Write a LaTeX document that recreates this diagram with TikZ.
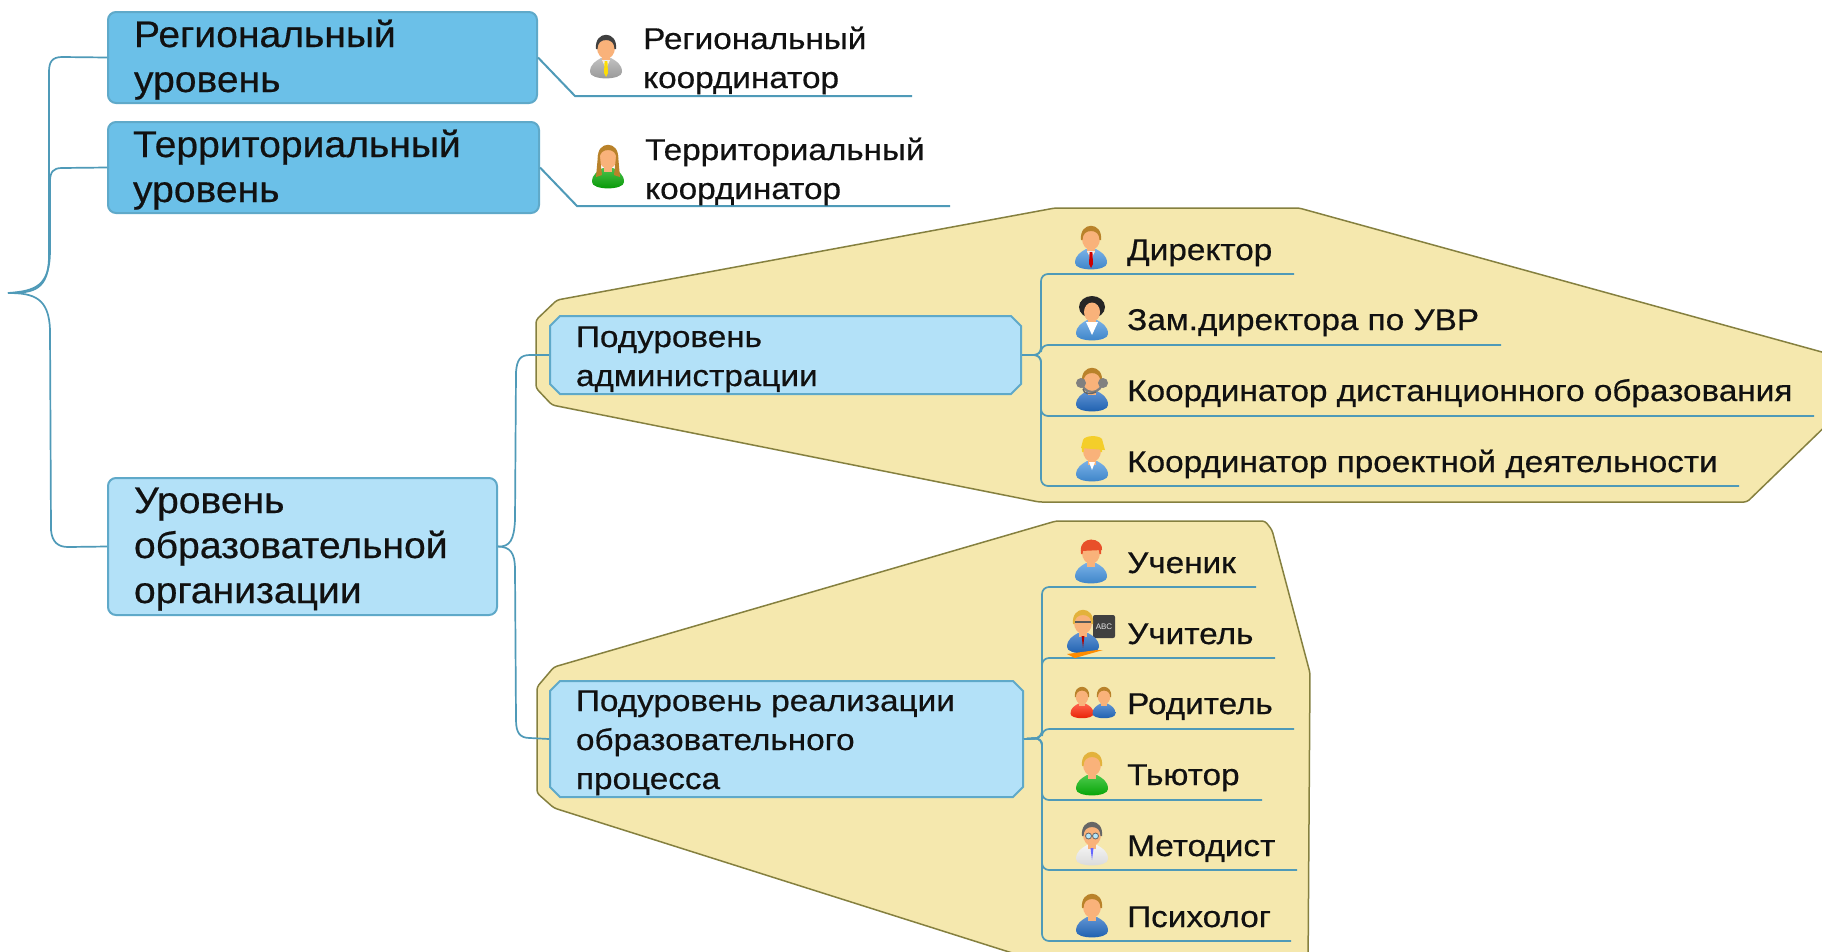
\documentclass[tikz,border=0pt]{standalone}
\usepackage{fontspec}
\setmainfont{Liberation Sans}
\newfontfamily\bigface[FakeStretch=1.056,FakeBold=0.5]{Liberation Sans}
\newfontfamily\smallface[FakeStretch=1.11,FakeBold=0.5]{Liberation Sans}
\usetikzlibrary{shapes.misc,calc}
\definecolor{linkc}{HTML}{4F9AB8}
\definecolor{boxline}{HTML}{5FA9C9}
\definecolor{darkfill}{HTML}{6BC0E8}
\definecolor{lightfill}{HTML}{B3E1F8}
\definecolor{blobfill}{HTML}{F5E8AE}
\definecolor{blobline}{HTML}{85803F}
\definecolor{skin}{HTML}{F9B27A}
\definecolor{bluebody}{HTML}{3F8FDC}
\definecolor{deepblue}{HTML}{1C66C0}
\definecolor{brownhair}{HTML}{B9822A}
\definecolor{blond}{HTML}{E3B23C}
\definecolor{hardhat}{HTML}{F4CE2A}
\definecolor{redcap}{HTML}{E8502A}
\definecolor{txtc}{HTML}{111111}
\newcommand{\boxtext}[3]{\raisebox{#2pt}[0pt][0pt]{\parbox[t]{#1pt}{\raggedright #3}}}
% \person{cx}{top}{scale}{hair}{body}{extras}
\newcommand{\person}[6]{%
 \begin{scope}[shift={(#1,#2)},scale=#3]
  \colorlet{pbody}{#5}
  \path[top color=pbody!70!white,bottom color=pbody!90!black]
    (-16,37) .. controls (-16,29) and (-10,26) .. (-5,23) -- (5,23)
    .. controls (10,26) and (16,29) .. (16,37) .. controls (16,45.5) and (-16,45.5) .. cycle;
  \fill[skin] (0,12.5) ellipse [x radius=9,y radius=11.5];
  \fill[skin] (-4,18) rectangle (4,27);
  \fill[#4] (-10,14) .. controls (-12,-5) and (12,-5) .. (10,14) -- (8.5,14)
     .. controls (8.5,8) and (5,5) .. (0,5) .. controls (-5,5) and (-8.5,8) .. (-8.5,14) -- cycle;
  #6
 \end{scope}}
\newcommand{\tie}[1]{\fill[white!85!gray] (-4,25) -- (4,25) -- (0,34) -- cycle; \fill[#1] (-1.4,26) -- (1.4,26) -- (2,38) -- (0,42) -- (-2,38) -- cycle;}
\tikzset{
 link/.style={draw=linkc,line width=1.7pt,rounded corners=7pt},
 under/.style={draw=linkc,line width=2pt},
 blob/.style={draw=blobline,line width=1.5pt,fill=blobfill},
 mainbox/.style={rectangle,rounded corners=8pt,draw=boxline,line width=2pt,inner sep=0pt,text=txtc,font=\bigface\fontsize{37}{45}\selectfont},
 subbox/.style={chamfered rectangle,chamfered rectangle xsep=10pt,chamfered rectangle ysep=10pt,draw=boxline,line width=2pt,fill=lightfill,inner sep=0pt,text=txtc,font=\smallface\fontsize{30}{39}\selectfont},
 lab/.style={anchor=base west,inner sep=0pt,text=txtc,font=\smallface\fontsize{30}{39}\selectfont},
 lab2/.style={anchor=west,inner sep=0pt,text=txtc,font=\smallface\fontsize{30}{39}\selectfont},
}
\begin{document}
\begin{tikzpicture}[x=1pt,y=-1pt]
\useasboundingbox (0,0) rectangle (1822,951);
\clip (0,0) rectangle (1822,951);
\fill[white] (0,0) rectangle (1822,951);
% yellow regions
\draw[blob,rounded corners=3pt] (1055,208) -- (1299,208) -- (1840,357) -- (1840,412) -- (1747,502) -- (1039,502) -- (552,405) -- (536,388) -- (536,320) -- (557,300) -- cycle;
\draw[blob,rounded corners=3pt] (1056,521) -- (1265,521) -- (1272,530) -- (1310,673) -- (1308,970) -- (1066,970) -- (554,808) -- (537,793) -- (537,687) -- (554,667) -- cycle;
% boxes
\node[mainbox,fill=darkfill,minimum width=429pt,minimum height=91pt] (reg) at (322.5,57.5) {\boxtext{377}{10.5}{Региональный\\уровень}};
\node[mainbox,fill=darkfill,minimum width=431pt,minimum height=91pt] (ter) at (323.5,167.5) {\boxtext{381}{10.5}{Территориальный\\уровень}};
\node[mainbox,fill=lightfill,minimum width=389pt,minimum height=137pt] (lvl) at (302.5,546.5) {\boxtext{337}{33.5}{Уровень\\образовательной\\организации}};
\node[subbox,minimum width=471pt,minimum height=78pt] (adm) at (785.5,355) {\boxtext{419}{8}{Подуровень\\администрации}};
\node[subbox,minimum width=473pt,minimum height=116pt] (proc) at (786.5,739) {\boxtext{421}{28}{Подуровень реализации\\образовательного\\процесса}};
% root brace
\coordinate (root) at (8,293);
\draw[link,rounded corners=0pt] (root) .. controls (34,293) and (49,290) .. (49,255) -- (49,72) .. controls (49,62) and (52,57) .. (62,57) -- (reg.west);
\draw[link,rounded corners=0pt] (root) .. controls (36,291) and (50,286) .. (50,250) -- (50,182) .. controls (50,172) and (53,168) .. (62,168) -- (ter.west);
\draw[link,rounded corners=0pt] (root) .. controls (34,293) and (49,298) .. (50,330) -- (51,530) .. controls (52,542) and (58,547) .. (68,547) -- (lvl.west);
\draw[link,rounded corners=0pt] (lvl.east) .. controls (510,547) and (514,540) .. (515,520) -- (516,372) .. controls (517,360) and (520,355) .. (530,355) -- (adm.west);
\draw[link,rounded corners=0pt] (lvl.east) .. controls (510,547) and (515,552) .. (515,570) -- (516,720) .. controls (516,733) and (520,738) .. (530,738) -- (proc.west);
% coordinators
\coordinate (u1a) at (575,96); \coordinate (u1b) at (912,96);
\coordinate (u2a) at (577,206); \coordinate (u2b) at (950,206);
\draw[under] (reg.east) -- (u1a) -- (u1b);
\draw[under] (ter.east) -- (u2a) -- (u2b);
\node[lab2] (t1) at (643,49) {\boxtext{300}{0}{Региональный\\координатор}};
\node[lab2] (t2) at (645,160) {\boxtext{300}{0}{Территориальный\\координатор}};
% admin list
\coordinate (ta) at (1041,355);
\foreach \n/\yy/\xe in {a/274/1294,b/345/1501,c/416/1814,d/486/1739}{
 \coordinate (e\n) at (\xe,\yy);
 \draw[link] (adm.east) -- (ta) -- (ta |- e\n) -- (e\n);
}
\node[lab] (l1) at (1127,260) {Директор};
\node[lab] (l2) at (1127,330) {Зам.директора по УВР};
\node[lab] (l3) at (1127,401) {Координатор дистанционного образования};
\node[lab] (l4) at (1127,472) {Координатор проектной деятельности};
% process list
\coordinate (tb) at (1042,738);
\foreach \n/\yy/\xe in {f/587/1256,g/658/1275,h/729/1294,i/800/1262,j/870/1297,k/941/1291}{
 \coordinate (e\n) at (\xe,\yy);
 \draw[link] (proc.east) -- (tb) -- (tb |- e\n) -- (e\n);
}
\node[lab] (m1) at (1127,573) {Ученик};
\node[lab] (m2) at (1127,644) {Учитель};
\node[lab] (m3) at (1127,714) {Родитель};
\node[lab] (m4) at (1127,785) {Тьютор};
\node[lab] (m5) at (1127,856) {Методист};
\node[lab] (m6) at (1127,927) {Психолог};
% icons
\person{606}{35}{1}{black!75}{gray!70}{\tie{yellow!80!orange}}
\person{608}{145}{1}{brownhair}{green!65!black}{\fill[brownhair] (-10,10) -- (-12,32) -- (-6,30) -- (-8,12) -- cycle; \fill[brownhair] (10,10) -- (12,32) -- (6,30) -- (8,12) -- cycle;}
\person{1091}{226}{1}{brownhair}{bluebody}{\tie{red!80!black}}
\person{1092}{297}{1}{black!85}{bluebody}{\fill[black!85] (0,10) ellipse [x radius=13,y radius=11]; \fill[skin] (0,15) ellipse [x radius=8,y radius=9.5]; \fill[white] (-6,25) -- (6,25) -- (0,38) -- cycle;}
\person{1092}{368}{1}{brownhair}{deepblue}{\draw[gray,line width=2.2pt] (-11,12) arc[start angle=180,end angle=360,x radius=11,y radius=-12]; \fill[gray] (-11,15) circle (5); \fill[gray] (11,15) circle (5); \draw[black!60,line width=1.4pt] (-9,21) .. controls (-8,26) and (-3,27) .. (4,24);}
\person{1092}{438}{1}{hardhat}{bluebody}{\fill[hardhat] (-11,10) -- (13,12) -- (10,1) .. controls (7,-3) and (-7,-3) .. (-9,2) -- cycle; \fill[white] (-3,24) -- (3,24) -- (0,32) -- cycle;}
\person{1091}{540}{1}{redcap}{bluebody}{\fill[redcap] (-10,11) -- (11,10) .. controls (12,-4) and (-12,-4) .. (-10,11) -- cycle;}
\fill[black!75,rounded corners=2pt] (1093,615) rectangle (1115,638);
\node[inner sep=0pt,text=white!80!gray,font=\fontsize{8}{8}\selectfont] (abc) at (1104,626.5) {ABC};
\person{1083}{610}{1}{blond}{deepblue}{\draw[gray!70!black,line width=1.2pt] (-8,12) -- (8,12); \fill[orange!90!yellow] (-16,44) -- (14,40) -- (20,40) -- (-8,48) -- cycle; \fill[red!70!black] (-1.4,26) -- (1.4,26) -- (0,38) -- cycle;}
\person{1082}{687}{.72}{brownhair}{red!75!orange}{}
\person{1104}{687}{.72}{brownhair}{deepblue}{}
\person{1092}{752}{1}{blond}{green!70!black}{}
\person{1092}{822}{1}{black!60}{white!88!gray}{\draw[black!60,fill=white!70!cyan,line width=.8pt] (-3.5,14) circle (3); \draw[black!60,fill=white!70!cyan,line width=.8pt] (3.5,14) circle (3); \fill[blue!60] (-1.5,26) -- (1.5,26) -- (0,38) -- cycle;}
\person{1092}{894}{1}{brownhair}{deepblue}{}
\end{tikzpicture}
\end{document}
